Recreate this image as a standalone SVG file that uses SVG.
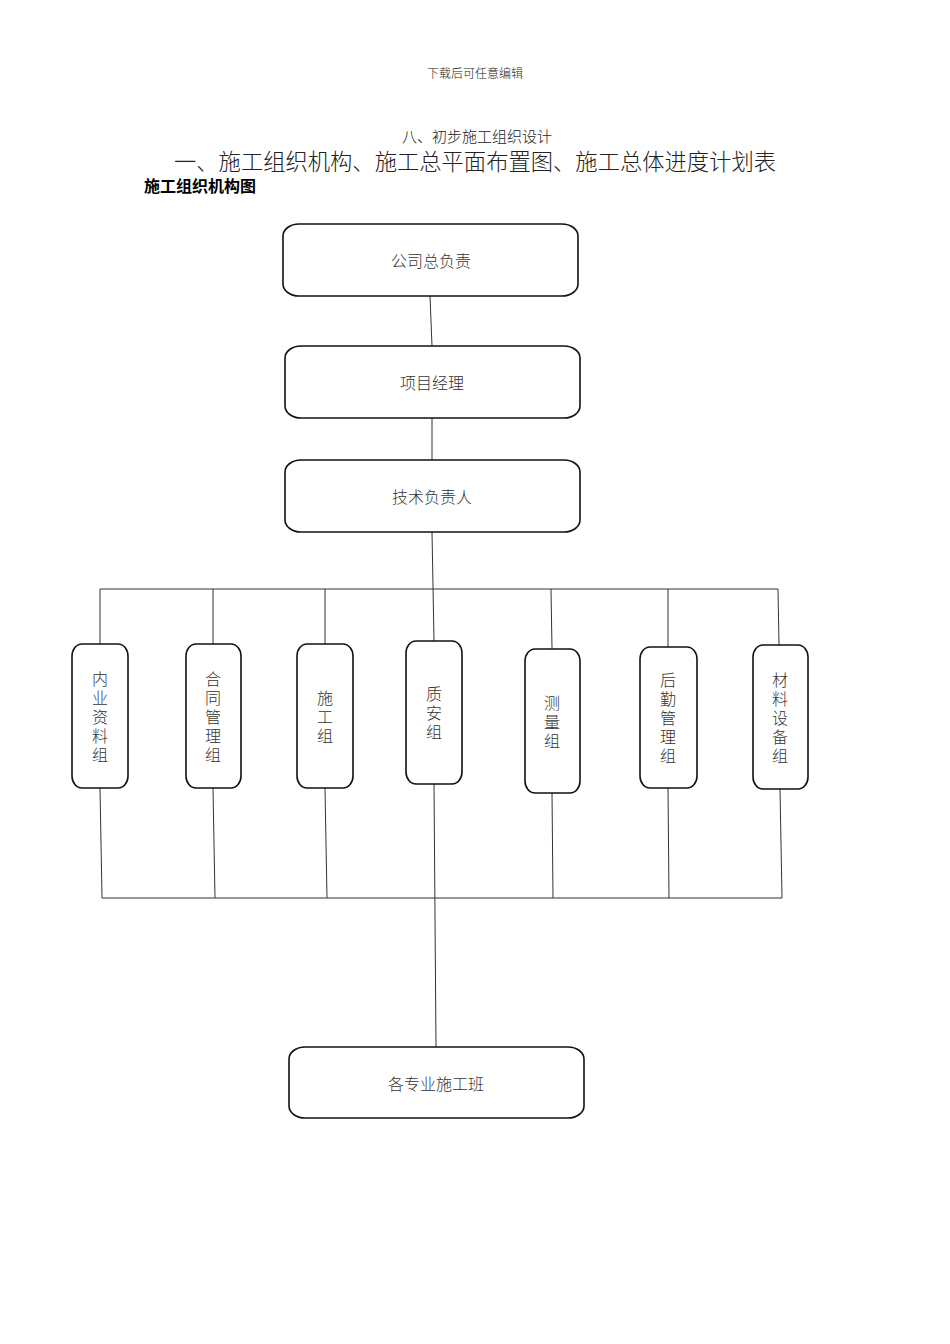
<svg xmlns="http://www.w3.org/2000/svg" width="950" height="1344" viewBox="0 0 950 1344">
<style>
.t{font-family:"Liberation Serif","Noto Sans CJK SC",serif;fill:#222;font-weight:300}
.bx{fill:#fff;stroke:#111;stroke-width:1.6}
.ln{stroke:#333;stroke-width:1;fill:none}
.nt{font-family:"Noto Sans CJK SC",sans-serif;font-size:16px;fill:#333;text-anchor:middle;font-weight:300}
.vt{font-family:"Noto Sans CJK SC",sans-serif;font-size:16px;fill:#333;text-anchor:middle;font-weight:300;writing-mode:vertical-rl;letter-spacing:3px}
</style>
<rect width="950" height="1344" fill="#fff"/>
<text class="t" x="475" y="78" font-size="12" text-anchor="middle">下载后可任意编辑</text>
<text class="t" x="477" y="142" font-size="15" text-anchor="middle">八、初步施工组织设计</text>
<text class="t" x="475" y="170" font-size="22.3" text-anchor="middle">一、施工组织机构、施工总平面布置图、施工总体进度计划表</text>
<text x="144" y="192" font-size="16" font-weight="bold" font-family="Noto Sans CJK SC,sans-serif" fill="#000">施工组织机构图</text>
<g id="connectors">
<line class="ln" x1="430" y1="296" x2="432" y2="346"/>
<line class="ln" x1="432" y1="418" x2="432" y2="460"/>
<line class="ln" x1="432" y1="532" x2="434" y2="641"/>
<line class="ln" x1="100" y1="589" x2="778" y2="589"/>
<line class="ln" x1="100" y1="589" x2="100" y2="644"/>
<line class="ln" x1="213" y1="589" x2="213" y2="644"/>
<line class="ln" x1="325" y1="589" x2="325" y2="644"/>
<line class="ln" x1="551" y1="589" x2="552" y2="649"/>
<line class="ln" x1="668" y1="589" x2="668" y2="647"/>
<line class="ln" x1="778" y1="589" x2="779" y2="645"/>
<line class="ln" x1="100" y1="788" x2="102" y2="898"/>
<line class="ln" x1="213" y1="788" x2="215" y2="898"/>
<line class="ln" x1="325" y1="788" x2="327" y2="898"/>
<line class="ln" x1="434" y1="784" x2="436" y2="1047"/>
<line class="ln" x1="552" y1="793" x2="553" y2="898"/>
<line class="ln" x1="668" y1="788" x2="669" y2="898"/>
<line class="ln" x1="780" y1="789" x2="782" y2="898"/>
<line class="ln" x1="102" y1="898" x2="782" y2="898"/>
</g>
<g id="n1"><rect class="bx" x="283" y="224" width="295" height="72" rx="16" ry="12"/><text class="nt" x="431" y="267">公司总负责</text></g>
<g id="n2"><rect class="bx" x="285" y="346" width="295" height="72" rx="16" ry="12"/><text class="nt" x="432" y="389">项目经理</text></g>
<g id="n3"><rect class="bx" x="285" y="460" width="295" height="72" rx="16" ry="12"/><text class="nt" x="432" y="503">技术负责人</text></g>
<g id="g1"><rect class="bx" x="72" y="644" width="56" height="144" rx="10" ry="12"/><text class="vt" x="100" y="718">内业资料组</text></g>
<g id="g2"><rect class="bx" x="186" y="644" width="55" height="144" rx="10" ry="12"/><text class="vt" x="213" y="718">合同管理组</text></g>
<g id="g3"><rect class="bx" x="297" y="644" width="56" height="144" rx="10" ry="12"/><text class="vt" x="325" y="718">施工组</text></g>
<g id="g4"><rect class="bx" x="406" y="641" width="56" height="143" rx="10" ry="12"/><text class="vt" x="434" y="714">质安组</text></g>
<g id="g5"><rect class="bx" x="525" y="649" width="55" height="144" rx="10" ry="12"/><text class="vt" x="552" y="723">测量组</text></g>
<g id="g6"><rect class="bx" x="640" y="647" width="57" height="141" rx="10" ry="12"/><text class="vt" x="668" y="719">后勤管理组</text></g>
<g id="g7"><rect class="bx" x="753" y="645" width="55" height="144" rx="10" ry="12"/><text class="vt" x="780" y="719">材料设备组</text></g>
<g id="n4"><rect class="bx" x="289" y="1047" width="295" height="71" rx="16" ry="12"/><text class="nt" x="436" y="1090">各专业施工班</text></g>
</svg>
